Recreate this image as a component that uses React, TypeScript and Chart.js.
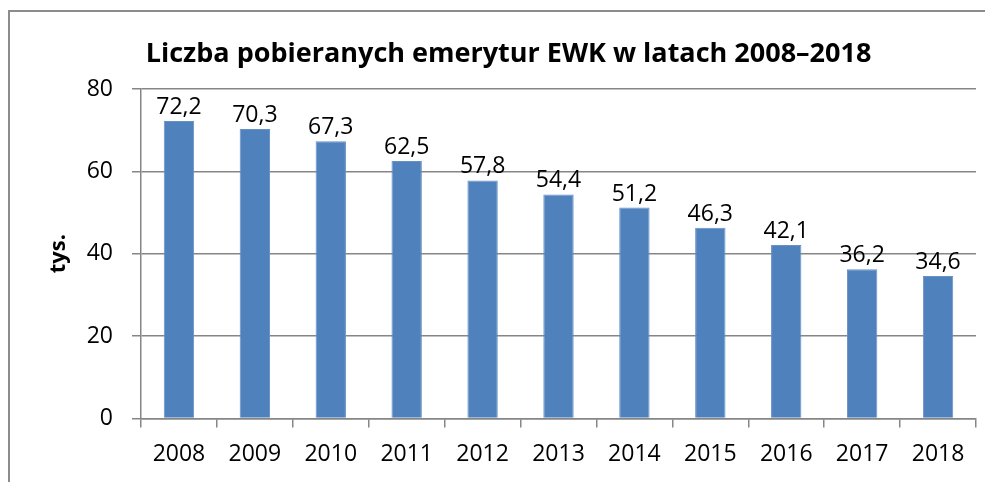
import React, { useEffect, useRef } from "react";
import { Chart, registerables } from "chart.js";

Chart.register(...registerables);

const years = ["2008", "2009", "2010", "2011", "2012", "2013", "2014", "2015", "2016", "2017", "2018"];
const pensions = [72.2, 70.3, 67.3, 62.5, 57.8, 54.4, 51.2, 46.3, 42.1, 36.2, 34.6];
const yTicks = [0, 20, 40, 60, 80];
const chartTitle = "Liczba pobieranych emerytur EWK w latach 2008–2018";
const yTitle = "tys.";

const FONT = "'Open Sans', Lato, sans-serif";

const valueLabels = {
  id: "valueLabels",
  afterDatasetsDraw(chart: any) {
    const ctx = chart.ctx;
    const meta = chart.getDatasetMeta(0);
    ctx.save();
    ctx.font = `23px ${FONT}`;
    ctx.fillStyle = "#000";
    ctx.textAlign = "center";
    ctx.textBaseline = "alphabetic";
    meta.data.forEach((bar: any, i: number) => {
      const v = chart.data.datasets[0].data[i] as number;
      ctx.fillText(v.toFixed(1).replace(".", ","), bar.x, bar.y - 7);
    });
    ctx.restore();
  },
};

const headerTitle = {
  id: "headerTitle",
  afterDraw(chart: any) {
    const ctx = chart.ctx;
    ctx.save();
    ctx.font = `bold 27px ${FONT}`;
    ctx.fillStyle = "#000";
    ctx.textAlign = "center";
    ctx.textBaseline = "alphabetic";
    ctx.fillText(chartTitle, chart.width / 2 + 7, 50);
    ctx.restore();
  },
};

export default function App() {
  const ref = useRef<HTMLCanvasElement>(null);
  useEffect(() => {
    if (!ref.current) return;
    const chart = new Chart(ref.current, {
      type: "bar",
      data: {
        labels: years,
        datasets: [
          {
            data: pensions,
            backgroundColor: "#4F81BD",
            borderColor: "#6690c6",
            borderWidth: 1,
            barPercentage: 0.4,
            categoryPercentage: 1,
          },
        ],
      },
      options: {
        animation: false,
        responsive: false,
        maintainAspectRatio: false,
        layout: { padding: { left: 0, right: 17, top: 77, bottom: 1 } },
        plugins: {
          legend: { display: false },
          tooltip: { enabled: false },
          title: { display: false },
        },
        scales: {
          x: {
            offset: true,
            grid: {
              offset: true,
              drawOnChartArea: false,
              drawTicks: true,
              tickLength: 9,
              color: "#868686",
              lineWidth: 1.5,
            },
            border: { color: "#868686", width: 1.5 },
            ticks: {
              color: "#000",
              font: { family: FONT, size: 23 },
              padding: 13,
              maxRotation: 0,
            },
          },
          y: {
            min: 0,
            max: 80,
            afterBuildTicks: (s: any) => {
              s.ticks = yTicks.map((v) => ({ value: v }));
            },
            afterFit: (s: any) => {
              s.width = 131;
            },
            grid: {
              color: "#868686",
              lineWidth: 1.5,
              tickLength: 9,
            },
            border: { color: "#868686", width: 1.5 },
            ticks: {
              color: "#000",
              font: { family: FONT, size: 23 },
              padding: 19,
            },
            title: {
              display: true,
              text: yTitle,
              color: "#000",
              font: { family: FONT, size: 22, weight: "bold" },
              padding: { top: 36, bottom: 0 },
            },
          },
        },
      },
      plugins: [valueLabels, headerTitle],
    });
    return () => chart.destroy();
  }, []);

  return (
    <div
      style={{
        marginTop: 2,
        borderLeft: "2px solid #8c8c8c",
        borderTop: "2px solid #8c8c8c",
        width: 985,
        height: 472,
        boxSizing: "border-box",
      }}
    >
      <canvas ref={ref} width={983} height={470} style={{ display: "block" }} />
    </div>
  );
}
